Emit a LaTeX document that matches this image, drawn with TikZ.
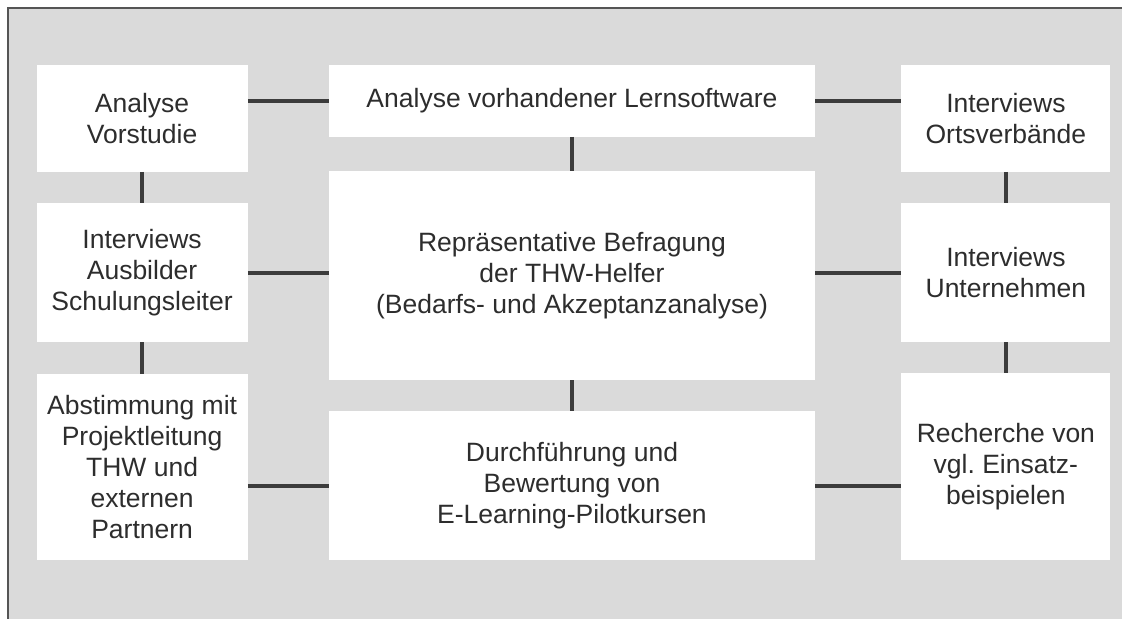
\documentclass[tikz,border=0pt]{standalone}
\usepackage{fontspec}
\setmainfont{Liberation Sans}
\usepackage{tikz}
\usetikzlibrary{positioning}
\definecolor{panelgray}{RGB}{218, 218, 218}
\definecolor{framegray}{RGB}{85, 85, 85}
\definecolor{linkgray}{RGB}{60, 60, 60}
\definecolor{textgray}{RGB}{45, 45, 45}
\frenchspacing

\begin{document}
\begin{tikzpicture}[
    task/.style={rectangle, fill=white, draw=none, inner sep=2pt, align=center, text=textgray, font=\fontsize{26.5}{31}\selectfont, minimum width=#1},
    task/.default=211pt,
    link/.style={line width=4pt, color=linkgray}
]

% Panel and page size
\coordinate (pagenw) at (-572pt, 275.5pt);
\coordinate (pagese) at (550pt, -343.5pt);
\coordinate (panelnw) at (-564pt, 267.5pt);
\useasboundingbox (pagenw) rectangle (pagese);
\fill[panelgray] (panelnw) rectangle (pagese);
\draw[framegray, line width=1.5pt] (panelnw -| pagese) -- (panelnw) -- (panelnw |- pagese);

% Centre column
\node[task=486pt, minimum height=209pt] (befragung) at (0,0) {Repräsentative Befragung\\der THW-Helfer\\(Bedarfs- und Akzeptanzanalyse)};
\node[task=486pt, minimum height=72pt, above=34pt of befragung] (lernsw) {Analyse vorhandener Lernsoftware};
\node[task=486pt, minimum height=149pt, below=31pt of befragung] (pilot) {Durchführung und\\Bewertung von\\E-Learning-Pilotkursen};

% Left column
\node[task, minimum height=107pt, above left=-1pt and 81pt of befragung] (vorstudie) {Analyse\\Vorstudie};
\node[task, minimum height=139pt, below=31pt of vorstudie] (ausbilder) {Interviews\\Ausbilder\\Schulungsleiter};
\node[task, minimum height=186pt, below=32pt of ausbilder] (abstimmung) {Abstimmung mit\\Projektleitung\\THW und\\externen\\Partnern};

% Right column
\node[task=209pt, minimum height=107pt, above right=-1pt and 86pt of befragung] (ortsv) {Interviews\\Ortsverbände};
\node[task=209pt, minimum height=139pt, below=31pt of ortsv] (unternehmen) {Interviews\\Unternehmen};
\node[task=209pt, minimum height=187pt, below=31pt of unternehmen] (recherche) {Recherche von\\vgl. Einsatz-\\beispielen};

% Links: vertical
\draw[link] (vorstudie) -- (ausbilder);
\draw[link] (ausbilder) -- (abstimmung);
\draw[link] (lernsw) -- (befragung);
\draw[link] (befragung) -- (pilot);
\draw[link] (ortsv) -- (unternehmen);
\draw[link] (unternehmen) -- (recherche);

% Links: horizontal
\draw[link] (vorstudie.east |- lernsw.west) -- (lernsw.west);
\draw[link] (ausbilder.east) -- (ausbilder.east -| befragung.west);
\draw[link] (abstimmung.east |- pilot.west) -- (pilot.west);
\draw[link] (lernsw.east) -- (lernsw.east -| ortsv.west);
\draw[link] (unternehmen.west -| befragung.east) -- (unternehmen.west);
\draw[link] (pilot.east) -- (pilot.east -| recherche.west);

\end{tikzpicture}
\end{document}
